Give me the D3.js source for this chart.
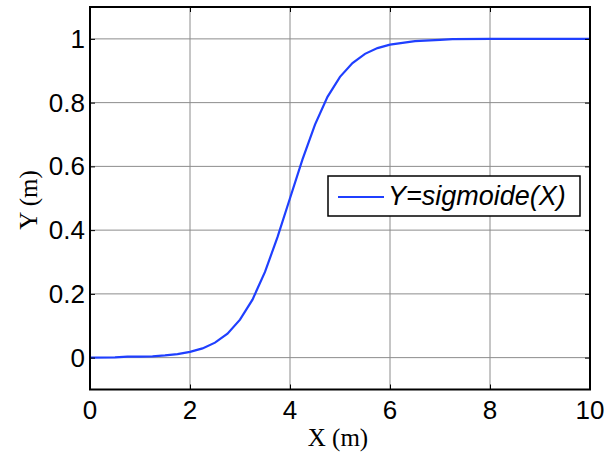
<!DOCTYPE html>
<html>
<head>
<meta charset="utf-8">
<script src="https://cdn.jsdelivr.net/npm/d3@7"></script>
<style>
  body { margin: 0; background: #fff; }
  svg { display: block; }
</style>
</head>
<body>
<svg id="chart" width="604" height="452"></svg>
<script>
// values
const xs = [0, 0.5, 0.75, 1, 1.25, 1.5, 1.75, 2, 2.25, 2.5, 2.75, 3, 3.25, 3.5, 3.75, 4,
    4.25, 4.5, 4.75, 5, 5.25, 5.5, 5.75, 6, 6.5, 7, 7.25, 8, 9, 10]
const ys = [0, 0.001, 0.003, 0.003, 0.004, 0.007, 0.011, 0.018, 0.029, 0.047, 0.075, 0.119, 0.182, 0.269, 0.378, 0.5,
    0.622, 0.731, 0.818, 0.881, 0.924, 0.953, 0.971, 0.982, 0.993, 0.997, 0.999, 1, 1, 1]
const xTicks = [0, 2, 4, 6, 8, 10]
const yTicks = [0, 0.2, 0.4, 0.6, 0.8, 1]
const legendLabel = "Y=sigmoide(X)"

const svg = d3.select("#chart")
const plotL = 90, plotR = 590, plotT = 7, plotB = 389.5

const x = d3.scaleLinear().domain([0, 10]).range([plotL, plotR])
const y = d3.scaleLinear().domain([-0.1, 1.1]).range([plotB, plotT])

// grid
svg.append("g")
    .selectAll("line")
    .data(xTicks.slice(1, -1))
    .join("line")
    .attr("x1", d => x(d)).attr("x2", d => x(d))
    .attr("y1", plotT).attr("y2", plotB)
    .attr("stroke", "#8c8c8c").attr("stroke-width", 1)
svg.append("g")
    .selectAll("line")
    .data(yTicks)
    .join("line")
    .attr("x1", plotL).attr("x2", plotR)
    .attr("y1", d => y(d)).attr("y2", d => y(d))
    .attr("stroke", "#8c8c8c").attr("stroke-width", 1)

// curve
const line = d3.line().x(d => x(d[0])).y(d => y(d[1]))
svg.append("path")
    .datum(d3.zip(xs, ys))
    .attr("d", line)
    .attr("fill", "none")
    .attr("stroke", "#1f3fff")
    .attr("stroke-width", 2.2)

// inward ticks on all four sides
const tickLen = 5
const axes = [
    [d3.axisBottom(x).tickValues(xTicks), `translate(0,${plotB})`],
    [d3.axisTop(x).tickValues(xTicks), `translate(0,${plotT})`],
    [d3.axisLeft(y).tickValues(yTicks), `translate(${plotL},0)`],
    [d3.axisRight(y).tickValues(yTicks), `translate(${plotR},0)`]
]
axes.forEach(([ax, tr]) => {
    const g = svg.append("g").attr("transform", tr)
        .call(ax.tickSize(-tickLen).tickFormat(""))
    g.select(".domain").remove()
    g.selectAll(".tick line").attr("stroke", "#000").attr("stroke-width", 1)
})

// frame
svg.append("rect")
    .attr("x", plotL).attr("y", plotT)
    .attr("width", plotR - plotL).attr("height", plotB - plotT)
    .attr("fill", "none").attr("stroke", "#000").attr("stroke-width", 2)

// tick labels
svg.append("g")
    .selectAll("text")
    .data(xTicks)
    .join("text")
    .attr("x", d => x(d)).attr("y", 419)
    .attr("text-anchor", "middle")
    .style("font", "26px 'Liberation Sans', Arial, sans-serif")
    .text(d => d)
svg.append("g")
    .selectAll("text")
    .data(yTicks)
    .join("text")
    .attr("x", 85).attr("y", d => y(d)).attr("dy", "0.35em")
    .attr("text-anchor", "end")
    .style("font", "26px 'Liberation Sans', Arial, sans-serif")
    .text(d => d)

// axis labels
svg.append("text")
    .attr("x", 338).attr("y", 446)
    .attr("text-anchor", "middle")
    .style("font", "25px 'Liberation Serif', 'Times New Roman', serif")
    .text("X (m)")
svg.append("text")
    .attr("transform", "translate(37,200) rotate(-90)")
    .attr("text-anchor", "middle")
    .style("font", "25px 'Liberation Serif', 'Times New Roman', serif")
    .text("Y (m)")

// legend
const lg = svg.append("g")
lg.append("rect")
    .attr("x", 328).attr("y", 176).attr("width", 252).attr("height", 40)
    .attr("fill", "#fff").attr("stroke", "#000").attr("stroke-width", 1.5)
lg.append("line")
    .attr("x1", 338).attr("x2", 384).attr("y1", 197).attr("y2", 197)
    .attr("stroke", "#1f3fff").attr("stroke-width", 2)
lg.append("text")
    .attr("x", 388).attr("y", 205)
    .style("font", "italic 27px 'Liberation Sans', Arial, sans-serif")
    .text(legendLabel)
</script>
</body>
</html>
